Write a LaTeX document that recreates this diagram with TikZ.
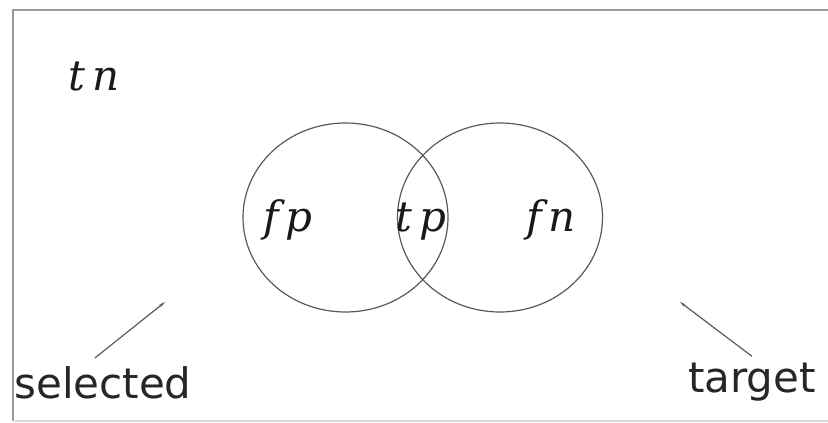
\documentclass[tikz,border=0pt]{standalone}
\usepackage{fontspec}
\newfontfamily\labelfont{DejaVu Sans}
\newfontfamily\cellfont{DejaVu Serif}
\usepackage{tikz}
\usetikzlibrary{shapes.geometric, arrows.meta}

\begin{document}
\begin{tikzpicture}[
    x=1pt, y=-1pt,
    setnode/.style={ellipse, draw=black!65, line width=1.2pt, minimum width=205pt, minimum height=189pt, inner sep=0pt},
    mlabel/.style={font=\cellfont\fontsize{42}{50}\selectfont\itshape, text=black!90, inner sep=0pt, anchor=base},
    wlabel/.style={font=\labelfont\fontsize{42}{50}\selectfont, text=black!85, inner sep=3pt, anchor=base},
    pointer/.style={-{Stealth[length=6pt, width=3pt]}, line width=1.2pt, color=black!65},
    frame/.style={line width=2pt, color=black!40}
]
\useasboundingbox (0,0) rectangle (828,423);

% frame of the universe
\draw[frame] (828,10) -- (13,10) -- (13,421);
\draw[frame, color=black!15] (13,421) -- (828,421);

% the two sets
\node[setnode] (selset) at (345.5,217.5) {};
\node[setnode] (tgtset) at (500,217.5) {};

% cell labels
\node[mlabel] (tn) at (94,90) {t\,n};
\node[mlabel] (fp) at (288,231) {f\,p};
\node[mlabel] (tp) at (421,231) {t\,p};
\node[mlabel] (fn) at (551,231) {f\,n};

% set names
\node[wlabel] (selected) at (103,398) {selected};
\node[wlabel] (target) at (752,392) {target};

\coordinate (selpt) at (165,302);
\coordinate (tgtpt) at (680,302);

\draw[pointer] ([xshift=-8pt,yshift=5pt]selected.north) -- (selpt);
\draw[pointer] ([yshift=3pt]target.north) -- (tgtpt);

\end{tikzpicture}
\end{document}
